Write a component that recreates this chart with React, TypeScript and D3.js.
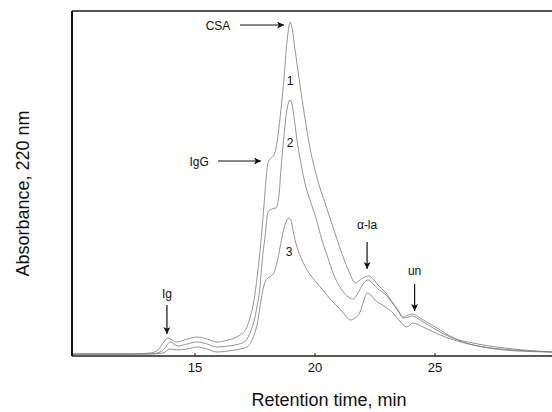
import React from "react";
import * as d3 from "d3";

// Retention time (min) and absorbance (arbitrary units) for three chromatograms
const curve1: [number, number][] = [
  [9.875, 2], [12.29, 2], [13.125, 3], [13.46, 6], [13.67, 13], [13.875, 18], [14.04, 16], [14.25, 14],
  [14.67, 17], [15.08, 19], [15.5, 17], [15.92, 14], [16.375, 16], [16.875, 21], [17.125, 27], [17.29, 38],
  [17.46, 56], [17.625, 86], [17.79, 126], [17.875, 151], [17.96, 176], [18.04, 193], [18.17, 198],
  [18.29, 201], [18.375, 208], [18.46, 221], [18.58, 246], [18.71, 278], [18.83, 314], [18.92, 330],
  [18.96, 334], [19.04, 328], [19.17, 306], [19.375, 271], [19.58, 238], [19.79, 208], [20.0, 186],
  [20.21, 168], [20.42, 153], [20.625, 138], [20.83, 123], [21.04, 108], [21.25, 94], [21.46, 82],
  [21.67, 73], [21.875, 76], [22.08, 79], [22.25, 80], [22.42, 77], [22.625, 71], [22.92, 64],
  [23.25, 53], [23.46, 46], [23.67, 39], [23.875, 41], [24.08, 42], [24.375, 38], [25.08, 28],
  [25.625, 20], [26.17, 14], [27.0, 9], [28.42, 5], [29.875, 4],
];
const curve2: [number, number][] = [
  [9.875, 2], [12.29, 2], [13.125, 2], [13.54, 4], [13.75, 8], [13.96, 14], [14.29, 10], [14.67, 12],
  [15.08, 14], [15.5, 12], [15.92, 9], [16.375, 10], [16.96, 13], [17.17, 17], [17.29, 23], [17.46, 35],
  [17.58, 49], [17.71, 70], [17.79, 93], [17.92, 120], [18.04, 144], [18.21, 147], [18.375, 148],
  [18.5, 161], [18.58, 186], [18.71, 221], [18.83, 246], [18.92, 255], [18.96, 256], [19.04, 252],
  [19.17, 231], [19.25, 216], [19.375, 198], [19.58, 173], [19.79, 156], [20.04, 138], [20.29, 116],
  [20.54, 98], [20.75, 83], [21.04, 69], [21.33, 60], [21.58, 57], [21.79, 63], [22.0, 72], [22.21, 76],
  [22.42, 72], [22.625, 67], [22.92, 62], [23.25, 52], [23.46, 45], [23.67, 38], [23.875, 39],
  [24.08, 40], [24.375, 36], [25.21, 24], [25.625, 19], [26.58, 13], [28.25, 7], [29.875, 4],
];
const curve3: [number, number][] = [
  [9.875, 2], [13.125, 2], [13.67, 3], [13.96, 7], [14.29, 6], [14.67, 7], [15.08, 9], [15.5, 7],
  [15.92, 4], [16.375, 5], [16.875, 7], [17.17, 9], [17.375, 16], [17.625, 36], [17.75, 56],
  [17.875, 71], [18.0, 77], [18.17, 80], [18.29, 83], [18.42, 94], [18.54, 108], [18.67, 124],
  [18.79, 134], [18.92, 138], [19.0, 136], [19.08, 126], [19.25, 109], [19.46, 96], [19.67, 86],
  [20.0, 75], [20.33, 66], [20.625, 57], [20.96, 49], [21.25, 41], [21.46, 36], [21.67, 38],
  [21.875, 44], [22.04, 56], [22.17, 63], [22.33, 61], [22.5, 56], [22.875, 50], [23.25, 43],
  [23.5, 36], [23.83, 29], [24.08, 33], [24.5, 29], [25.21, 21], [26.58, 11], [28.25, 6], [29.875, 4],
];
const seriesList = [curve1, curve2, curve3];

const xTicks = [15, 20, 25];
const xTitle = "Retention time, min";
const yTitle = "Absorbance, 220 nm";

// curve number labels [time, absorbance, text]
const curveLabels: [number, number, string][] = [
  [18.96, 276, "1"],
  [18.96, 214, "2"],
  [18.92, 105, "3"],
];
// horizontal arrows: text, text time, level, arrow start time, arrow end time
const hArrows: [string, number, number, number, number][] = [
  ["CSA", 15.96, 331, 16.875, 18.71],
  ["IgG", 15.17, 195, 15.96, 17.75],
];
// vertical arrows: text, time, text level, arrow top level, arrow bottom level
const vArrows: [string, number, number, number, number][] = [
  ["Ig", 13.83, 63, 51, 22],
  ["\u03b1-la", 22.17, 132, 114, 87],
  ["un", 24.15, 86, 72, 45],
];

const W = 552;
const H = 412;
const left = 72;
const right = 552;
const top = 11;
const bottom = 356;

export default function App() {
  const x = d3.scaleLinear().domain([9.875, 29.875]).range([left, right]);
  const y = d3.scaleLinear().domain([0, 345]).range([bottom, top]);
  const line = d3
    .line<[number, number]>()
    .x((d) => x(d[0]))
    .y((d) => y(d[1]))
    .curve(d3.curveMonotoneX);
  const font = "'Liberation Sans', Arial, sans-serif";

  return (
    <svg
      width={W}
      height={H}
      style={{ position: "absolute", left: 0, top: 0, display: "block", background: "#fff" }}
      fontFamily={font}
    >
      <defs>
        <marker id="ah" viewBox="0 0 10 10" refX="10" refY="5" markerWidth="9" markerHeight="7" markerUnits="userSpaceOnUse" orient="auto">
          <path d="M0,0 L10,5 L0,10 L2.5,5 Z" fill="#111" />
        </marker>
      </defs>
      {seriesList.map((s, i) => (
        <path key={i} d={line(s) || ""} fill="none" stroke="#7a7a7a" strokeWidth={0.8} />
      ))}
      {/* frame */}
      <line x1={left} x2={right} y1={top} y2={top} stroke="#555" strokeWidth={2} />
      <line x1={left} x2={left} y1={top} y2={bottom} stroke="#111" strokeWidth={2} />
      <line x1={left} x2={right} y1={bottom} y2={bottom} stroke="#222" strokeWidth={1.5} />
      {xTicks.map((t) => (
        <g key={t}>
          <line x1={x(t)} x2={x(t)} y1={bottom} y2={bottom - 3} stroke="#222" strokeWidth={1} />
          <text x={x(t)} y={bottom + 16} textAnchor="middle" fontSize={13} fill="#111">
            {t}
          </text>
        </g>
      ))}
      <text x={329} y={406} textAnchor="middle" fontSize={18} fill="#111">
        {xTitle}
      </text>
      <text
        transform={`translate(29,${(top + bottom) / 2 + 10}) rotate(-90)`}
        textAnchor="middle"
        fontSize={18}
        fill="#111"
      >
        {yTitle}
      </text>
      {curveLabels.map(([t, v, s]) => (
        <text key={s} x={x(t)} y={y(v) + 4.5} textAnchor="middle" fontSize={12} fill="#111">
          {s}
        </text>
      ))}
      {hArrows.map(([s, tt, v, t1, t2]) => (
        <g key={s}>
          <text x={x(tt)} y={y(v) + 4.5} textAnchor="middle" fontSize={12} fill="#111">
            {s}
          </text>
          <line x1={x(t1)} x2={x(t2)} y1={y(v)} y2={y(v)} stroke="#111" strokeWidth={1.2} markerEnd="url(#ah)" />
        </g>
      ))}
      {vArrows.map(([s, t, vt, v1, v2]) => (
        <g key={s}>
          <text x={x(t)} y={y(vt) + 4.5} textAnchor="middle" fontSize={12} fill="#111">
            {s}
          </text>
          <line x1={x(t)} x2={x(t)} y1={y(v1)} y2={y(v2)} stroke="#111" strokeWidth={1.2} markerEnd="url(#ah)" />
        </g>
      ))}
    </svg>
  );
}
